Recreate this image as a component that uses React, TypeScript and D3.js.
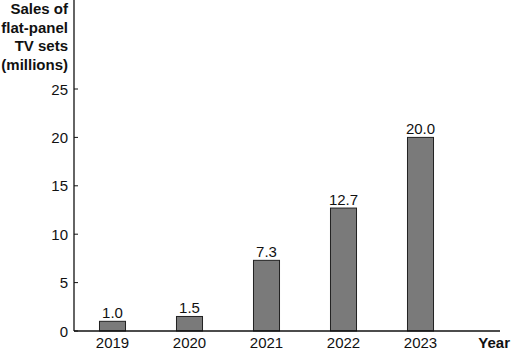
import { useEffect, useRef } from 'react';
import * as d3 from 'd3';

// Chart data
const years = ['2019', '2020', '2021', '2022', '2023'];
const sales = [1.0, 1.5, 7.3, 12.7, 20.0];
const yTicks = [0, 5, 10, 15, 20, 25];
const titleLines = ['Sales of', 'flat-panel', 'TV sets', '(millions)'];

const W = 511;
const H = 352;

export default function App() {
  const svgRef = useRef<SVGSVGElement>(null);

  useEffect(() => {
    if (!svgRef.current) return;
    const svg = d3.select(svgRef.current);
    svg.selectAll('*').remove();

    const font = '"Liberation Sans", Arial, sans-serif';
    const axisX = 74;
    const baseY = 331;

    const x = d3.scaleBand<string>()
      .domain(years)
      .range([axisX, axisX + 385])
      .paddingInner(0.662)
      .paddingOuter(0.331);

    const y = d3.scaleLinear().domain([0, 25]).range([baseY, 89]);

    // Bars
    svg.selectAll('.bar')
      .data(sales)
      .enter()
      .append('rect')
      .attr('x', (_, i) => x(years[i]) || 0)
      .attr('y', d => y(d))
      .attr('width', x.bandwidth())
      .attr('height', d => baseY - y(d))
      .attr('fill', '#7a7a7a')
      .attr('stroke', '#222')
      .attr('stroke-width', 1);

    // Value labels
    svg.selectAll('.val')
      .data(sales)
      .enter()
      .append('text')
      .attr('x', (_, i) => (x(years[i]) || 0) + x.bandwidth() / 2)
      .attr('y', d => y(d) - 3)
      .attr('text-anchor', 'middle')
      .style('font-family', font)
      .style('font-size', '15px')
      .attr('fill', '#111')
      .text(d => d.toFixed(1));

    // Axes lines
    svg.append('line')
      .attr('x1', axisX).attr('x2', axisX)
      .attr('y1', 0).attr('y2', baseY)
      .attr('stroke', '#111').attr('stroke-width', 1.3);
    svg.append('line')
      .attr('x1', axisX).attr('x2', 500)
      .attr('y1', baseY).attr('y2', baseY)
      .attr('stroke', '#111').attr('stroke-width', 1.3);

    // Y ticks
    const ticks = svg.selectAll('.ytick').data(yTicks).enter().append('g');
    ticks.append('line')
      .attr('x1', axisX).attr('x2', axisX + 4)
      .attr('y1', d => y(d)).attr('y2', d => y(d))
      .attr('stroke', '#111');
    ticks.append('text')
      .attr('x', 68)
      .attr('y', d => y(d) + 5.5)
      .attr('text-anchor', 'end')
      .style('font-family', font)
      .style('font-size', '15px')
      .attr('fill', '#111')
      .text(d => d);

    // X tick labels
    svg.selectAll('.xl')
      .data(years)
      .enter()
      .append('text')
      .attr('x', d => (x(d) || 0) + x.bandwidth() / 2)
      .attr('y', 348)
      .attr('text-anchor', 'middle')
      .style('font-family', font)
      .style('font-size', '15px')
      .attr('fill', '#111')
      .text(d => d);

    svg.append('text')
      .attr('x', 510)
      .attr('y', 348)
      .attr('text-anchor', 'end')
      .style('font-family', font)
      .style('font-size', '15px')
      .style('font-weight', 'bold')
      .attr('fill', '#111')
      .text('Year');

    // Y title
    svg.selectAll('.yt')
      .data(titleLines)
      .enter()
      .append('text')
      .attr('x', 68)
      .attr('y', (_, i) => 14 + i * 18.7)
      .attr('text-anchor', 'end')
      .style('font-family', font)
      .style('font-size', '15px')
      .style('font-weight', 'bold')
      .attr('fill', '#111')
      .text(d => d);
  }, []);

  return (
    <div style={{ position: 'absolute', left: 0, top: 0, background: '#fff' }}>
      <svg ref={svgRef} width={W} height={H} style={{ display: 'block' }} />
    </div>
  );
}
